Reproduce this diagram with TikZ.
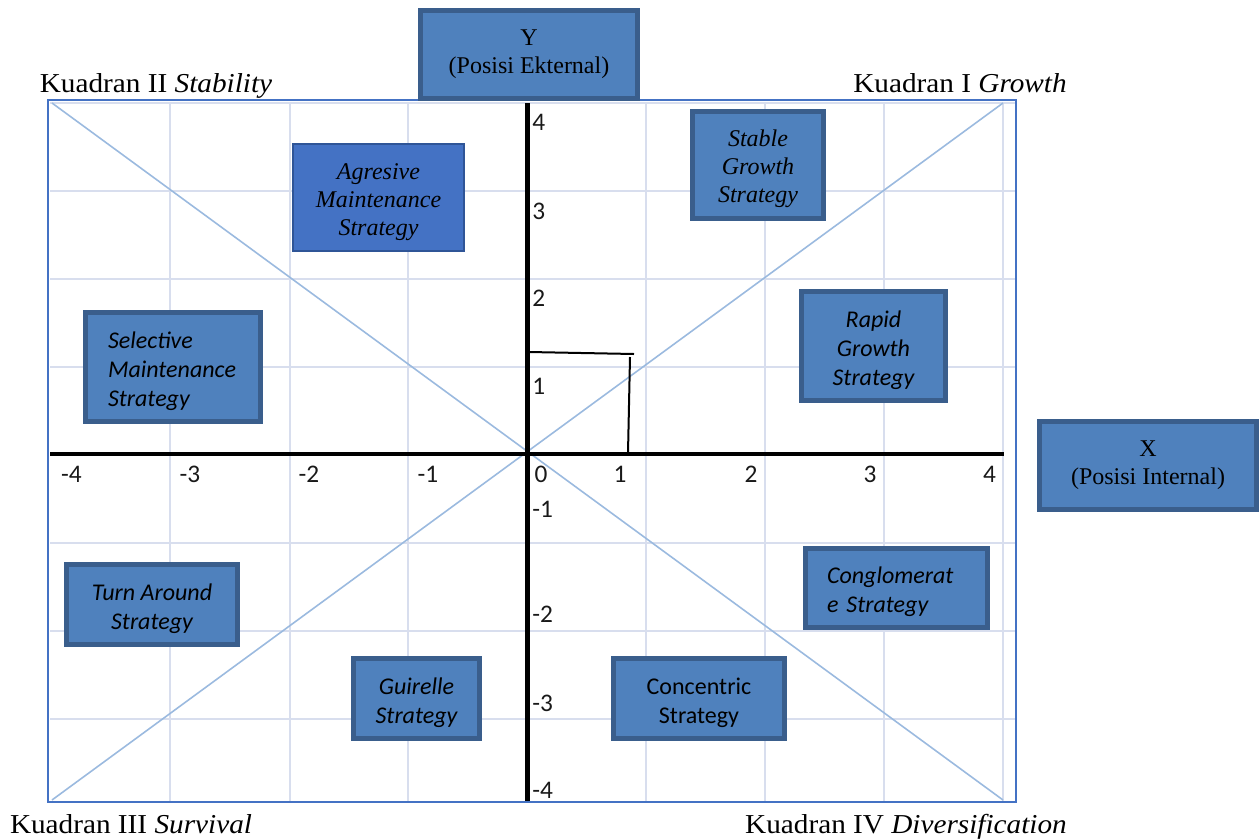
\documentclass[tikz,border=0pt]{standalone}
\usepackage{fontspec}
\setmainfont{Liberation Serif}
\newfontfamily\calfont{Carlito}
\newfontfamily\cornerfont{Liberation Serif}[FakeStretch=1.07]
\newcommand\tpad{\rule{0pt}{18.8pt}}
\definecolor{boxfill}{HTML}{4F81BD}
\definecolor{boxline}{HTML}{3A5E8C}
\definecolor{agfill}{HTML}{4472C4}
\definecolor{agline}{HTML}{2F5597}
\definecolor{gridcol}{HTML}{D8DEEE}
\definecolor{diagcol}{HTML}{9BBADF}
\definecolor{framecol}{HTML}{4472C4}
\tikzset{
  gridline/.style={draw=gridcol, line width=1.5pt},
  diagline/.style={draw=diagcol, line width=1.2pt},
  frameline/.style={draw=framecol, line width=1.5pt},
  xaxisline/.style={draw=black, line width=3pt},
  yaxisline/.style={draw=black, line width=3.75pt},
  markline/.style={draw=black, line width=1.5pt},
  sbox/.style={draw=boxline, fill=boxfill, line width=3.75pt, inner sep=0pt},
  agbox/.style={draw=agline, fill=agfill, line width=1.5pt, inner sep=0pt},
  sertext/.style={align=center, font=\fontsize{18}{21}\selectfont\itshape},
  caltext/.style={align=center, font=\calfont\fontsize{18}{21.75}\selectfont\itshape},
  axtext/.style={align=center, font=\fontsize{18}{21}\selectfont},
  tick/.style={inner sep=0pt, font=\calfont\fontsize{19}{21}\selectfont, text=black!90},
  corner/.style={anchor=base, inner sep=0pt, font=\cornerfont\fontsize{20.5}{24}\selectfont}
}
\begin{document}
\begin{tikzpicture}[x=0.75pt,y=-0.75pt]
\useasboundingbox (0,0) rectangle (1260,839);
% grid
\foreach \gy in {103,191,279,367,543,631,719}
  \draw[gridline] (50,\gy) -- (1016,\gy);
\foreach \gx in {170,290,408,646,765,884,1003}
  \draw[gridline] (\gx,103) -- (\gx,802);
% diagonals
\coordinate (tl) at (52,103);
\coordinate (tr) at (1003,103);
\coordinate (bl) at (52,800);
\coordinate (br) at (1003,800);
\draw[diagline] (tl) -- (br);
\draw[diagline] (bl) -- (tr);
% frame
\draw[frameline] (48,100) rectangle (1016,802);
% axes
\coordinate (xa) at (50,454);
\coordinate (xb) at (1004,454);
\coordinate (ya) at (527,103);
\coordinate (yb) at (527,801);
\draw[xaxisline] (xa) -- (xb);
\draw[yaxisline] (ya) -- (yb);
% marker lines
\coordinate (m1) at (529,352);
\coordinate (m2) at (634,354);
\coordinate (m3) at (630,357);
\coordinate (m4) at (628,453);
\draw[markline] (m1) -- (m2);
\draw[markline] (m3) -- (m4);
% tick labels
\foreach \lab/\px [count=\i] in {-4/71.5,-3/190,-2/309,-1/428,0/541,1/620,2/751,3/870,4/989.5}
  \node[tick] (xt\i) at (\px,474) {\lab};
\foreach \lab/\py [count=\i] in {4/122.5,3/211,2/298,1/386.5,-1/509.5,-2/614.5,-3/703,-4/790.5}
  \node[tick, anchor=west] (yt\i) at (532,\py) {\lab};
% axis boxes
\node[sbox, axtext, minimum width=162.75pt, minimum height=66pt] (ybox) at (529,54.5) {Y\\(Posisi Ekternal)};
\node[sbox, axtext, minimum width=162.75pt, minimum height=66pt] (xbox) at (1148,465.5) {X\\(Posisi Internal)};
% strategy boxes
\node[agbox, sertext, minimum width=128.25pt, minimum height=80.25pt] (agr) at (378.5,197.5) {\tpad Agresive\\Maintenance\\Strategy};
\node[sbox, sertext, minimum width=98.25pt, minimum height=80.25pt] (stab) at (758,165) {\tpad Stable\\Growth\\Strategy};
\node[sbox, caltext, align=left, text width=97.5pt, minimum width=131.25pt, minimum height=81.75pt] (sel) at (173,367) {\tpad Selective\\Maintenance\\Strategy};
\node[sbox, caltext, minimum width=108pt, minimum height=81.75pt] (rap) at (873.5,346) {\tpad Rapid\\Growth\\Strategy};
\node[sbox, caltext, minimum width=128.25pt, minimum height=60pt] (turn) at (152,604.5) {\tpad Turn Around\\Strategy};
\node[sbox, caltext, minimum width=94.5pt, minimum height=60pt] (gui) at (416.5,698.5) {\tpad Guirelle\\Strategy};
\node[sbox, caltext, font=\calfont\fontsize{18}{21.75}\selectfont\upshape, minimum width=128.25pt, minimum height=60pt] (conc) at (699,698.5) {\tpad Concentric\\Strategy};
\node[sbox, caltext, align=left, text width=104.25pt, minimum width=136.5pt, minimum height=59.25pt] (cong) at (896.5,588) {\tpad Conglomerat\\e Strategy};
% quadrant labels
\node[corner] (q2) at (156,92) {Kuadran II \textit{Stability}};
\node[corner] (q1) at (960,92) {Kuadran I \textit{Growth}};
\node[corner] (q3) at (131,833) {Kuadran III \textit{Survival}};
\node[corner] (q4) at (906,833) {Kuadran IV \textit{Diversification}};
\end{tikzpicture}
\end{document}
